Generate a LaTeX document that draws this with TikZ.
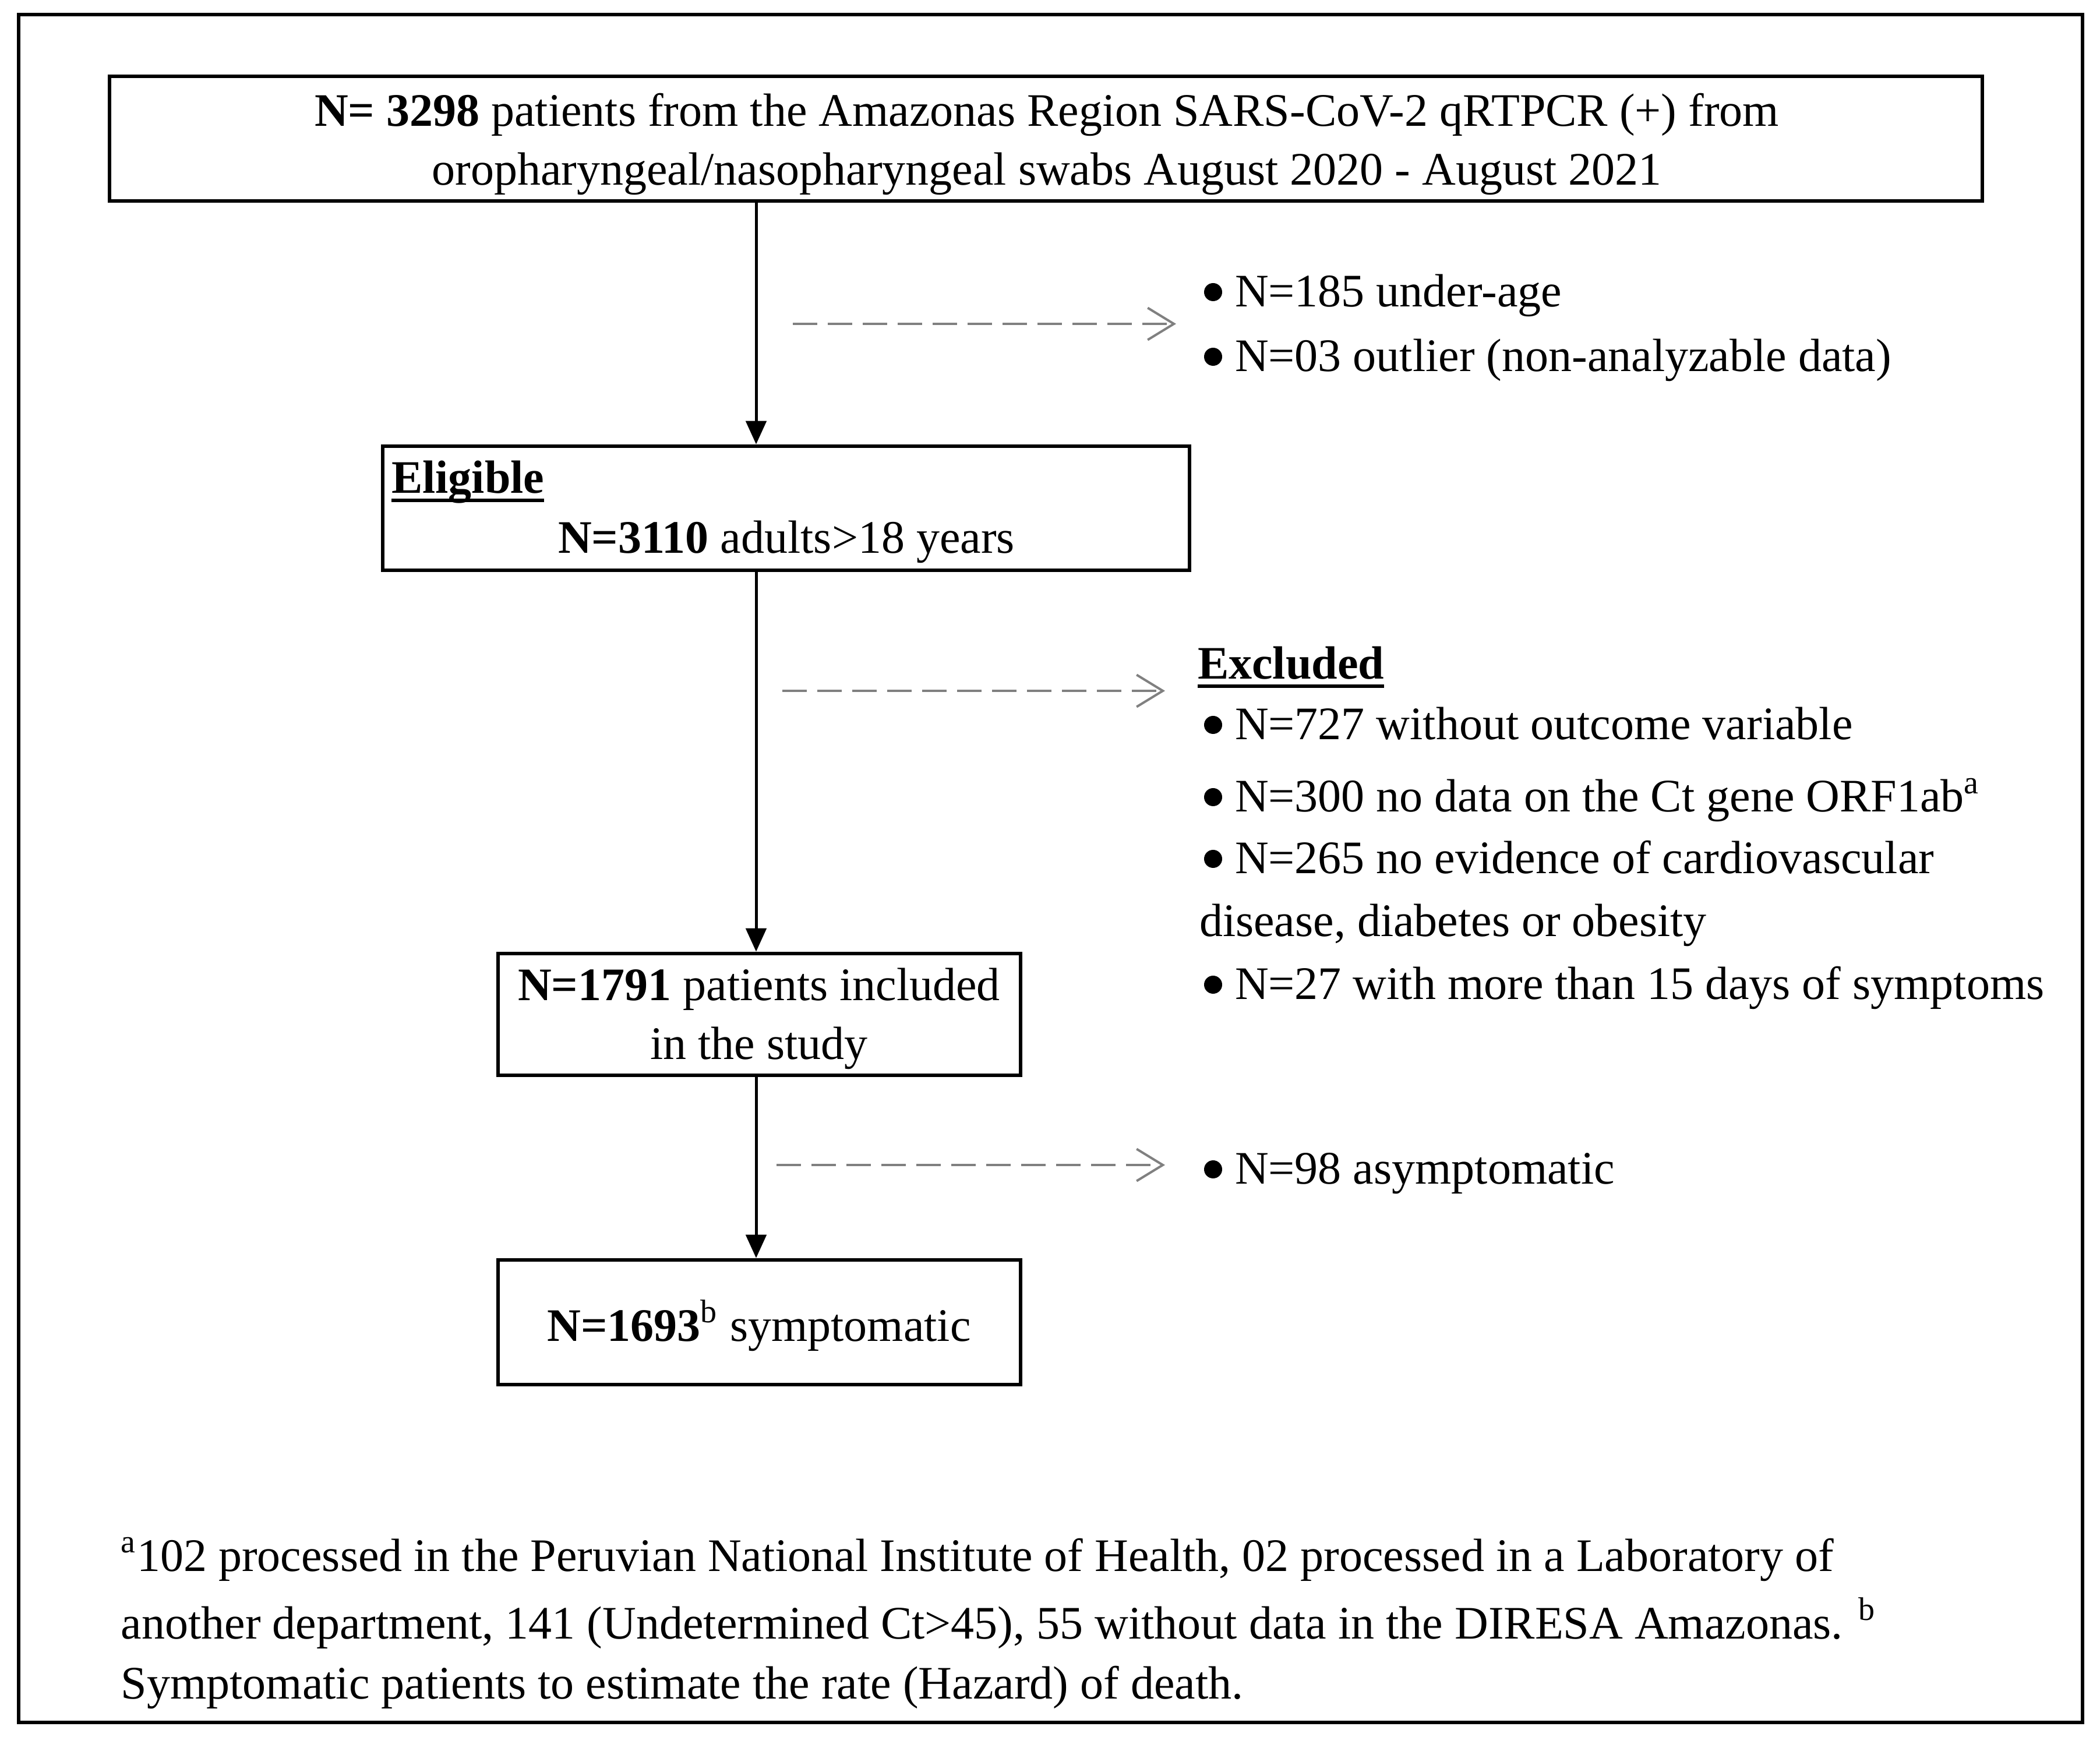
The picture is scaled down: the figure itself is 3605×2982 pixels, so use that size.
\documentclass[tikz,border=0pt]{standalone}
\usepackage{fontspec}
\setmainfont{Liberation Serif}
\usetikzlibrary{arrows.meta}
\newcommand\myul[1]{\leavevmode\setbox0\hbox{#1}\rlap{\rule[-3pt]{\wd0}{1.2pt}}\box0}
\begin{document}
\begin{tikzpicture}[x=0.2pt,y=-0.2pt,
  box/.style={draw, line width=1.3pt, inner sep=0pt},
  txt/.style={inner sep=0pt, anchor=base west, font=\fontsize{16}{20}\selectfont},
  btxt/.style={txt, append after command={\pgfextra{\fill ([xshift=-7.3pt,yshift=5.1pt]\tikzlastnode.base west) circle[radius=3.1pt];}}},
  ctxt/.style={inner sep=0pt, anchor=base, font=\fontsize{16}{20}\selectfont},
  flow/.style={-{Triangle[length=8pt,width=7pt]}, line width=1pt},
  skip/.style={-{Straight Barb[length=9pt,width=11pt]}, draw={rgb,255:red,128;green,128;blue,128}, dash pattern=on 8.4pt off 3.6pt, line width=0.8pt}]
\useasboundingbox (0,0) rectangle (3605,2982);
\draw[line width=1.2pt] (32,25) rectangle (3575,2957);
% boxes
\node[box, minimum width=643pt, minimum height=42.8pt] (top) at (1795.5,238) {};
\node[box, minimum width=277pt, minimum height=42.6pt] (elig) at (1349.5,872.5) {};
\node[box, minimum width=179.4pt, minimum height=41.8pt] (inc) at (1303.5,1741.5) {};
\node[box, minimum width=179.4pt, minimum height=42.8pt] (sym) at (1303.5,2270) {};
% box texts
\node[ctxt] (t1) at (1797,217) {\textbf{N= 3298} patients from the Amazonas Region SARS-CoV-2 qRTPCR (+) from};
\node[ctxt] (t2) at (1797,318) {oropharyngeal/nasopharyngeal swabs August 2020 - August 2021};
\node[txt] (e1) at (671,847) {\myul{\textbf{Eligible}}};
\node[ctxt] (e2) at (1350,950) {\textbf{N=3110} adults>18 years};
\node[ctxt] (i1) at (1303,1718) {\textbf{N=1791} patients included};
\node[ctxt] (i2) at (1303,1819) {in the study};
\node[ctxt] (s1) at (1303,2302) {\textbf{N=1693}\textsuperscript{b} symptomatic};
% side lists (bullets drawn by btxt)
\node[btxt] (l1) at (2119,527) {N=185 under-age};
\node[btxt] (l2) at (2119,638) {N=03 outlier (non-analyzable data)};
\node[txt] (x0) at (2055,1166) {\myul{\textbf{Excluded}}};
\node[btxt] (x1) at (2119,1270) {N=727 without outcome variable};
\node[btxt] (x2) at (2119,1394) {N=300 no data on the Ct gene ORF1ab\textsuperscript{a}};
\node[btxt] (x3) at (2119,1500) {N=265 no evidence of cardiovascular};
\node[txt] (x4) at (2058,1608) {disease, diabetes or obesity};
\node[btxt] (x5) at (2119,1716) {N=27 with more than 15 days of symptoms};
\node[btxt] (a1) at (2119,2033) {N=98 asymptomatic};
% footnote
\node[txt] (f1) at (207,2697) {\textsuperscript{a}102 processed in the Peruvian National Institute of Health, 02 processed in a Laboratory of};
\node[txt] (f2) at (207,2813) {another department, 141 (Undetermined Ct>45), 55 without data in the DIRESA Amazonas. \textsuperscript{b}};
\node[txt] (f3) at (207,2916) {Symptomatic patients to estimate the rate (Hazard) of death.};
% main flow
\coordinate (mx) at (1298,0);
\draw[flow] (top.south -| mx) -- (elig.north -| mx);
\draw[flow] (elig.south -| mx) -- (inc.north -| mx);
\draw[flow] (inc.south -| mx) -- (sym.north -| mx);
% dashed side arrows
\coordinate (d1s) at (1361,556); \coordinate (d1e) at (2019,556);
\coordinate (d2s) at (1343,1186); \coordinate (d2e) at (2000,1186);
\coordinate (d3s) at (1333,2000); \coordinate (d3e) at (2000,2000);
\draw[skip] (d1s) -- (d1e);
\draw[skip] (d2s) -- (d2e);
\draw[skip] (d3s) -- (d3e);
\end{tikzpicture}
\end{document}
